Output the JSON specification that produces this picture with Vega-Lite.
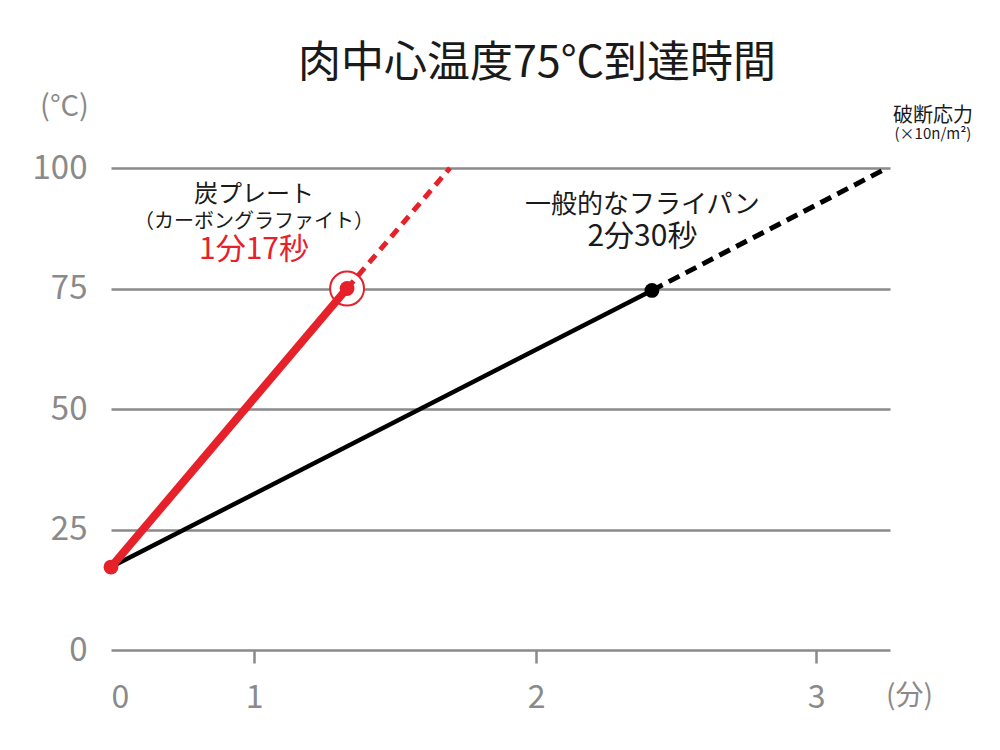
{
  "$schema": "https://vega.github.io/schema/vega-lite/v6.json",
  "width": 784,
  "height": 482,
  "autosize": "none",
  "padding": {"left": 106, "top": 168, "right": 110, "bottom": 100},
  "background": "white",
  "config": {"view": {"stroke": null}, "font": "Noto Sans CJK JP"},
  "title": {"text": "肉中心温度75°C到達時間", "fontSize": 43, "fontWeight": "normal", "color": "#1a1a1a", "anchor": "middle", "dx": 39, "offset": 6},
  "datasets": {
    "lines": [
      {"series": "pan", "style": "solid", "t": 0, "temp": 17.2},
      {"series": "pan", "style": "solid", "t": 2.414, "temp": 74.6},
      {"series": "pan", "style": "dashed", "t": 2.414, "temp": 74.6},
      {"series": "pan", "style": "dashed", "t": 3.25, "temp": 100},
      {"series": "carbon", "style": "solid", "t": 0, "temp": 17.2},
      {"series": "carbon", "style": "solid", "t": 1.33, "temp": 75},
      {"series": "carbon", "style": "dashed", "t": 1.33, "temp": 75},
      {"series": "carbon", "style": "dashed", "t": 1.695, "temp": 100}
    ],
    "points": [
      {"series": "pan", "kind": "reach", "t": 2.414, "temp": 74.6},
      {"series": "carbon", "kind": "start", "t": 0, "temp": 17.2},
      {"series": "carbon", "kind": "reach", "t": 1.33, "temp": 75}
    ],
    "notes": [
      {"role": "head", "text": "炭プレート", "t": 1.0, "temp": 94.5},
      {"role": "sub", "text": "（カーボングラファイト）", "t": 1.0, "temp": 88.9},
      {"role": "redtime", "text": "1分17秒", "t": 1.0, "temp": 82.9},
      {"role": "head2", "text": "一般的なフライパン", "t": 2.38, "temp": 92.3},
      {"role": "time", "text": "2分30秒", "t": 2.38, "temp": 85.6},
      {"role": "note", "text": "破断応力", "t": 3.411, "temp": 110.8},
      {"role": "note2", "text": "(×10n/m²)", "t": 3.411, "temp": 107.0}
    ]
  },
  "encoding": {
    "x": {
      "field": "t", "type": "quantitative",
      "scale": {"domain": [0, 1, 2, 3, 3.26], "range": [5, 148, 430, 710, 784], "nice": false, "zero": false},
      "axis": {
        "orient": "bottom", "grid": false, "domain": false, "values": [0, 1, 2, 3],
        "tickColor": "#8a8a8a", "tickWidth": 2.5, "tickSize": 13,
        "tickOpacity": {"condition": {"test": "datum.value === 0", "value": 0}, "value": 1},
        "labelFontSize": 32, "labelColor": "#8a8a8a", "labelPadding": 19, "labelFont": "Noto Sans CJK JP",
        "title": "(分)", "titleX": 803, "titleY": 46, "titleAlign": "center", "titleBaseline": "middle",
        "titleFontSize": 28, "titleFontWeight": "normal", "titleColor": "#8a8a8a", "titleFont": "Noto Sans CJK JP"
      }
    },
    "y": {
      "field": "temp", "type": "quantitative",
      "scale": {"domain": [0, 100], "nice": false},
      "axis": {
        "orient": "left", "grid": true, "gridColor": "#8a8a8a", "gridWidth": 2.5, "domain": false, "ticks": false,
        "values": [0, 25, 50, 75, 100],
        "labelFontSize": 33, "labelColor": "#8a8a8a", "labelPadding": 19, "labelFont": "Noto Sans CJK JP",
        "title": "(°C)", "titleAngle": 0, "titleX": -42, "titleY": -62, "titleAlign": "center", "titleBaseline": "middle",
        "titleFontSize": 29, "titleFontWeight": "normal", "titleColor": "#8a8a8a", "titleFont": "Noto Sans CJK JP"
      }
    }
  },
  "layer": [
    {
      "data": {"name": "points"},
      "transform": [{"filter": "datum.series === 'carbon' && datum.kind === 'reach'"}],
      "mark": {"type": "point", "shape": "circle", "filled": false, "fill": "white", "fillOpacity": 1, "stroke": "#e6212a", "strokeWidth": 2, "size": 1150, "opacity": 1}
    },
    {
      "data": {"name": "lines"},
      "transform": [{"filter": "datum.series === 'pan' && datum.style === 'solid'"}],
      "mark": {"type": "line", "color": "#000000", "strokeWidth": 4.5}
    },
    {
      "data": {"name": "lines"},
      "transform": [{"filter": "datum.series === 'pan' && datum.style === 'dashed'"}],
      "mark": {"type": "line", "color": "#000000", "strokeWidth": 5, "strokeDash": [12, 7]}
    },
    {
      "data": {"name": "lines"},
      "transform": [{"filter": "datum.series === 'carbon' && datum.style === 'solid'"}],
      "mark": {"type": "line", "color": "#e6212a", "strokeWidth": 8}
    },
    {
      "data": {"name": "lines"},
      "transform": [{"filter": "datum.series === 'carbon' && datum.style === 'dashed'"}],
      "mark": {"type": "line", "color": "#e6212a", "strokeWidth": 5, "strokeDash": [10, 7]}
    },
    {
      "data": {"name": "points"},
      "transform": [{"filter": "datum.series === 'pan'"}],
      "mark": {"type": "circle", "size": 220, "opacity": 1, "color": "#000000"}
    },
    {
      "data": {"name": "points"},
      "transform": [{"filter": "datum.series === 'carbon'"}],
      "mark": {"type": "circle", "size": 220, "opacity": 1, "color": "#e6212a"}
    },
    {
      "data": {"name": "notes"},
      "transform": [{"filter": "datum.role === 'head'"}],
      "mark": {"type": "text", "align": "center", "baseline": "middle", "fontSize": 24, "color": "#1a1a1a"},
      "encoding": {"text": {"field": "text"}}
    },
    {
      "data": {"name": "notes"},
      "transform": [{"filter": "datum.role === 'sub'"}],
      "mark": {"type": "text", "align": "center", "baseline": "middle", "fontSize": 20, "color": "#1a1a1a"},
      "encoding": {"text": {"field": "text"}}
    },
    {
      "data": {"name": "notes"},
      "transform": [{"filter": "datum.role === 'redtime'"}],
      "mark": {"type": "text", "align": "center", "baseline": "middle", "fontSize": 30, "color": "#e6212a"},
      "encoding": {"text": {"field": "text"}}
    },
    {
      "data": {"name": "notes"},
      "transform": [{"filter": "datum.role === 'head2'"}],
      "mark": {"type": "text", "align": "center", "baseline": "middle", "fontSize": 26, "color": "#1a1a1a"},
      "encoding": {"text": {"field": "text"}}
    },
    {
      "data": {"name": "notes"},
      "transform": [{"filter": "datum.role === 'time'"}],
      "mark": {"type": "text", "align": "center", "baseline": "middle", "fontSize": 30, "color": "#1a1a1a"},
      "encoding": {"text": {"field": "text"}}
    },
    {
      "data": {"name": "notes"},
      "transform": [{"filter": "datum.role === 'note'"}],
      "mark": {"type": "text", "align": "center", "baseline": "middle", "fontSize": 20, "color": "#1a1a1a"},
      "encoding": {"text": {"field": "text"}}
    },
    {
      "data": {"name": "notes"},
      "transform": [{"filter": "datum.role === 'note2'"}],
      "mark": {"type": "text", "align": "center", "baseline": "middle", "fontSize": 15, "color": "#1a1a1a"},
      "encoding": {"text": {"field": "text"}}
    }
  ]
}
